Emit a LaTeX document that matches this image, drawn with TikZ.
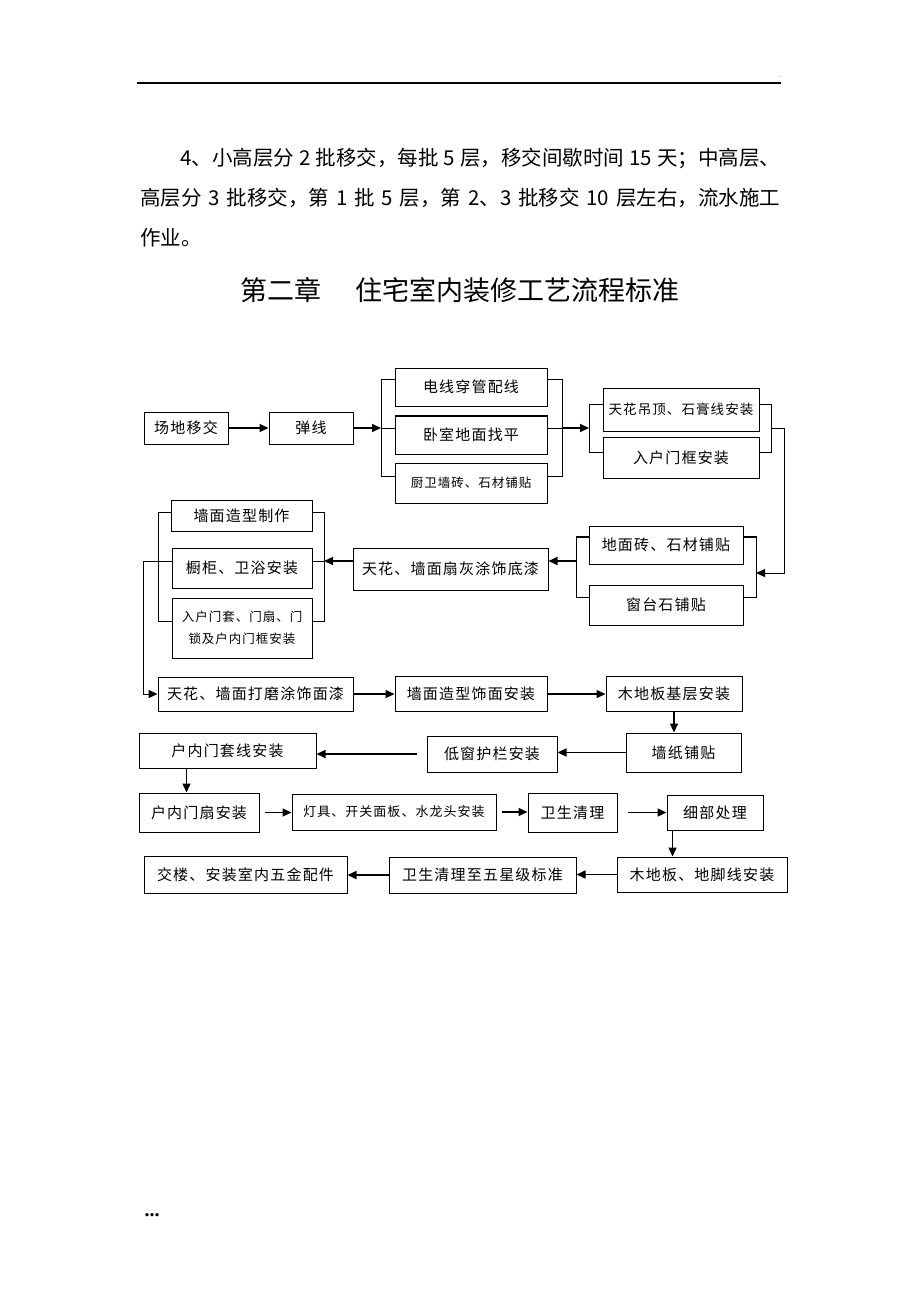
\documentclass[tikz,border=0pt]{standalone}
\usepackage{fontspec}
\setmainfont{Noto Sans CJK SC}
\newfontfamily\cjkw[LetterSpace=8]{Noto Sans CJK SC}
\newfontfamily\latb{Liberation Serif}
\usetikzlibrary{arrows.meta,calc}
\tikzset{
  box/.style={draw,line width=1pt,inner sep=0pt,font=\cjkw\fontsize{15}{18}\selectfont},
  sbox/.style={box,font=\cjkw\fontsize{12.5}{22}\selectfont},
  arr/.style={-{Triangle[length=9pt,width=8pt]},line width=1.5pt},
  brk/.style={line width=1pt}
}
\begin{document}
\begin{tikzpicture}[x=1pt,y=-1pt,line join=miter]
      \useasboundingbox (0,0) rectangle (920,1302);
      \fill[white] (0,0) rectangle (920,1302);

      % page text
      \draw[line width=1.4pt] (137,83) -- (781,83);
      \path (781,77) node[font=\fontsize{6}{6}\selectfont] (d) {.};
      \path (180,158) node[anchor=west,inner sep=0pt,font=\fontsize{20.5}{24}\selectfont] (p1) {\makebox[600pt][s]{4、小高层分 2 批移交，每批 5 层，移交间歇时间 15 天；中高层、}};
      \path (140,198) node[anchor=west,inner sep=0pt,font=\fontsize{20.5}{24}\selectfont] (p2) {\makebox[640pt][s]{高层分 3 批移交，第 1 批 5 层，第 2、3 批移交 10 层左右，流水施工}};
      \path (140,238) node[anchor=west,inner sep=0pt,font=\fontsize{20.5}{24}\selectfont] (p3) {作业。};
      \path (460,290) node[font=\fontsize{27}{30}\selectfont] (t) {第二章\hspace{34pt}住宅室内装修工艺流程标准};
      \path (152,1215) node[font=\latb\bfseries\fontsize{20}{20}\selectfont] (f) {...};

      % boxes
      \path (186,428)   node[box,minimum width=84,minimum height=32] (1)  {场地移交};
      \path (311,428)   node[box,minimum width=84,minimum height=32] (2)  {弹线};
      \path (471,387)   node[box,minimum width=152,minimum height=38] (3) {电线穿管配线};
      \path (471,435)   node[box,minimum width=152,minimum height=38] (4) {卧室地面找平};
      \path (471,483)   node[sbox,minimum width=152,minimum height=40] (5) {厨卫墙砖、石材铺贴};
      \path (681,409.5) node[sbox,font=\cjkw\fontsize{13.5}{16}\selectfont,minimum width=156,minimum height=43] (6) {天花吊顶、石膏线安装};
      \path (681,457.5) node[box,minimum width=156,minimum height=41] (7) {入户门框安装};
      \path (666,545)   node[box,minimum width=154,minimum height=38] (8) {地面砖、石材铺贴};
      \path (666,605)   node[box,minimum width=154,minimum height=40] (9) {窗台石铺贴};
      \path (450.5,569) node[box,minimum width=195,minimum height=42] (10) {天花、墙面扇灰涂饰底漆};
      \path (241.5,515.5) node[box,minimum width=141,minimum height=31] (11) {墙面造型制作};
      \path (242,568)   node[box,minimum width=140,minimum height=40] (12) {橱柜、卫浴安装};
      \path (242,628)   node[sbox,align=center,minimum width=140,minimum height=60] (13) {入户门套、门扇、门\\锁及户内门框安装};
      \path (255.5,694) node[box,minimum width=195,minimum height=34] (14) {天花、墙面打磨涂饰面漆};
      \path (471,694)   node[box,minimum width=152,minimum height=35] (15) {墙面造型饰面安装};
      \path (674,694)   node[box,minimum width=136,minimum height=35] (16) {木地板基层安装};
      \path (683.5,752.5) node[box,minimum width=115,minimum height=39] (17) {墙纸铺贴};
      \path (492,754)   node[box,minimum width=130,minimum height=36] (18) {低窗护栏安装};
      \path (227.5,750.5) node[box,minimum width=177,minimum height=35] (19) {户内门套线安装};
      \path (199,812.5) node[box,minimum width=120,minimum height=39] (20) {户内门扇安装};
      \path (394,812)   node[sbox,font=\cjkw\fontsize{13}{16}\selectfont,minimum width=204,minimum height=36] (21) {灯具、开关面板、水龙头安装};
      \path (572.5,812.5) node[box,minimum width=89,minimum height=39] (22) {卫生清理};
      \path (715,812.5) node[box,minimum width=96,minimum height=35] (23) {细部处理};
      \path (702,874.5) node[box,minimum width=170,minimum height=35] (24) {木地板、地脚线安装};
      \path (482.5,875) node[box,minimum width=187,minimum height=36] (25) {卫生清理至五星级标准};
      \path (245.5,874.5) node[box,minimum width=203,minimum height=37] (26) {交楼、安装室内五金配件};
      \draw[line width=2pt] (4.north west) -- (4.north east);

      % brackets
      \coordinate (b1l) at (381,428);
      \coordinate (b1r) at (562,428);
      \coordinate (b2l) at (589,428);
      \coordinate (b2r) at (771,428);
      \coordinate (b3l) at (576,561);
      \coordinate (b3r) at (756,573);
      \coordinate (b4r) at (324,561);
      \draw[brk] (395,379) -- (381,379) -- (381,476) -- (395,476); %3-5 left
      \draw[brk] (547,379) -- (562,379) -- (562,476) -- (547,476); %3-5 right
      \draw[brk] (b1l) -- (b1l -| 4.west);
      \draw[brk] (b1r -| 4.east) -- (b1r);
      \draw[brk] (603,404) -- (589,404) -- (589,452) -- (603,452); %6-7 left
      \draw[brk] (759,404) -- (771,404) -- (771,452) -- (759,452); %6-7 right
      \draw[brk] (589,597) -- (576,597) -- (576,537); %8-9 left
      \draw[brk] (743,597) -- (756,597) -- (756,537); %8-9 right
      \draw[line width=1.8pt] (589,537) -- (575.5,537);
      \draw[line width=1.8pt] (743,537) -- (756.5,537);
      \draw[brk] (171,512) -- (158,512) -- (158,621) -- (172,621); %11-13 left
      \draw[brk] (312,512) -- (324,512) -- (324,621) -- (312,621); %11-13 right
      \draw[brk] (b4r -| 12.east) -- (b4r);

      % arrows
      \draw[arr] (1) -- (2); %1-2
      \draw[arr] (2) -- (b1l); %2-3
      \draw[arr] (b1r) -- (b2l); %4-6
      \draw[arr,line width=1pt] (b2r) -- (784,428) |- (b3r); %7-8
      \draw[arr] (b3l) -- (b3l -| 10.east); %8-10
      \draw[arr] (b4r -| 10.west) -- (b4r); %10-12
      \coordinate (t2) at (143,561);
      \draw[arr,line width=1pt] (b4r -| 12.west) -- (t2) |- (14.west); %12-14
      \draw[arr] (14) -- (15); %14-15
      \draw[arr] (15) -- (16); %15-16
      \draw[arr] (16.south) -- (16.south |- 17.north); %16-17
      \draw[arr] (17.west) -- (17.west -| 18.east); %17-18
      \draw[arr,shorten <=10pt] (18.west) -- (18.west -| 19.east); %18-19
      \coordinate (c2) at ([xshift=48pt]19.south west);
      \draw[arr] (c2) -- (c2 |- 20.north); %19-20
      \draw[arr,shorten <=5pt] (20.east) -- (20.east -| 21.west); %20-21
      \draw[arr,shorten <=5pt] (21.east) -- (21.east -| 22.west); %21-22
      \draw[arr,shorten <=10pt] (22.east) -- (22.east -| 23.west); %22-23
      \coordinate (c3) at ([xshift=6pt]23.south west);
      \draw[arr] (c3) -- (c3 |- 24.north); %23-24
      \draw[arr] (24.west) -- (24.west -| 25.east); %24-25
      \draw[arr] (25.west) -- (25.west -| 26.east); %25-26

    \end{tikzpicture}
\end{document}
